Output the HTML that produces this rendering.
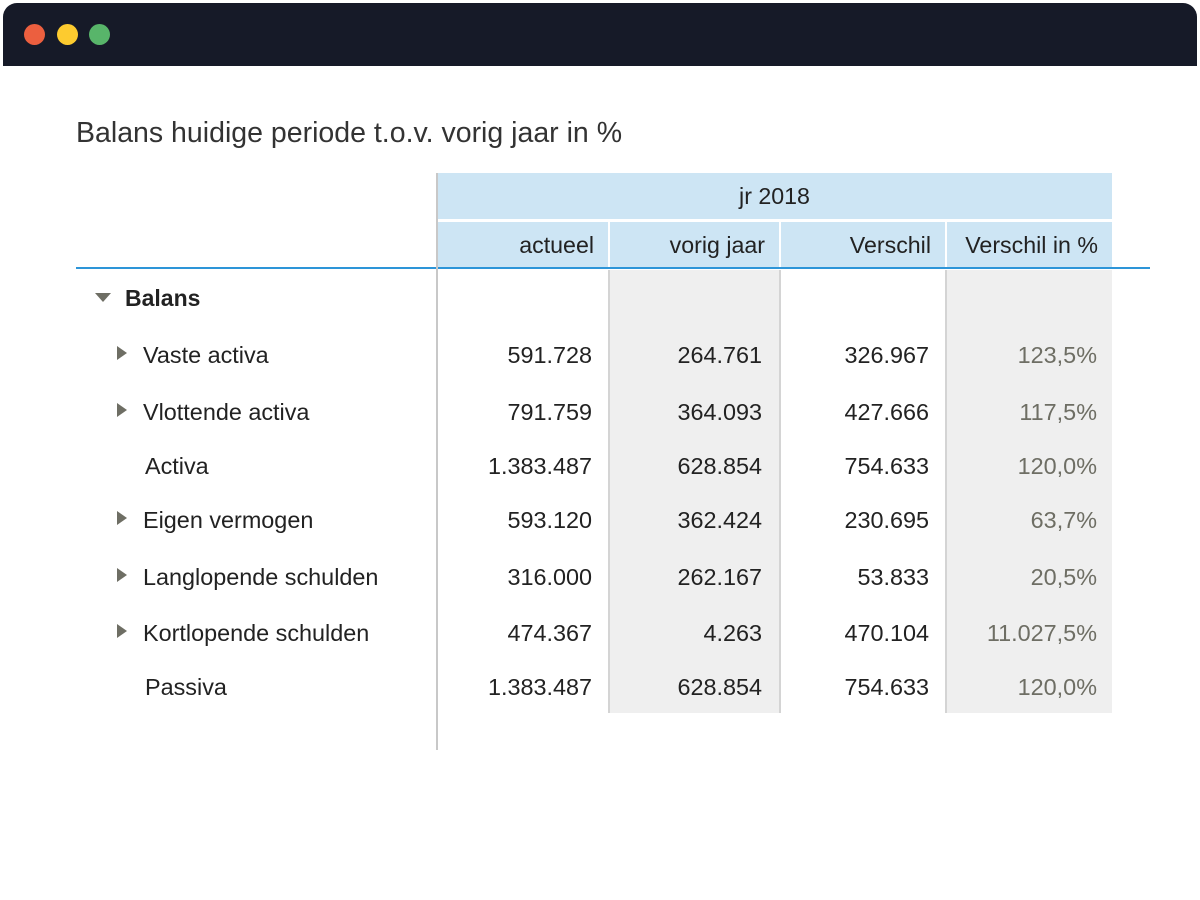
<!DOCTYPE html>
<html><head><meta charset="utf-8"><style>
body{margin:0;width:1200px;height:900px;background:#fff;position:relative;overflow:hidden;font-family:"Liberation Sans",sans-serif;color:#222}
div{position:absolute;box-sizing:border-box}
.t{white-space:nowrap;font-size:23.4px;line-height:26px}
.r{text-align:right}
.pct{color:#6e6e64}
.hdr{background:#cde5f4;font-size:23.2px;line-height:46px;text-align:right;padding-right:14px;white-space:nowrap}
.tri{width:0;height:0;border-top:7px solid transparent;border-bottom:7px solid transparent;border-left:10px solid #6e6e64}
</style></head><body>
<div style="left:3px;top:3px;width:1194px;height:63px;background:#161a28;border-radius:14px 14px 0 0"></div>
<div style="left:24px;top:24px;width:21px;height:21px;border-radius:50%;background:#ec5f3f"></div>
<div style="left:57px;top:24px;width:21px;height:21px;border-radius:50%;background:#fdcb2f"></div>
<div style="left:89px;top:24px;width:21px;height:21px;border-radius:50%;background:#58b56a"></div>
<div class="t" style="left:76px;top:117px;font-size:28.5px;line-height:32px;color:#333">Balans huidige periode t.o.v. vorig jaar in %</div>

<div style="left:610px;top:270px;width:169px;height:443px;background:#efefef"></div>
<div style="left:947px;top:270px;width:165px;height:443px;background:#efefef"></div>
<div class="hdr" style="left:437px;top:173px;width:675px;height:46px;text-align:center;padding:0">jr 2018</div>
<div class="hdr" style="left:437px;top:222px;width:171px;height:46px">actueel</div>
<div class="hdr" style="left:610px;top:222px;width:169px;height:46px">vorig jaar</div>
<div class="hdr" style="left:781px;top:222px;width:164px;height:46px">Verschil</div>
<div class="hdr" style="left:947px;top:222px;width:165px;height:46px">Verschil in %</div>
<div style="left:76px;top:267px;width:1074px;height:2px;background:#2d95d8"></div>
<div style="left:436px;top:173px;width:2px;height:577px;background:#c8c8c8"></div>
<div style="left:608px;top:270px;width:2px;height:443px;background:#d4d4d4"></div>
<div style="left:779px;top:270px;width:2px;height:443px;background:#d4d4d4"></div>
<div style="left:945px;top:270px;width:2px;height:443px;background:#d4d4d4"></div>

<div style="left:95px;top:293px;width:0;height:0;border-left:8px solid transparent;border-right:8px solid transparent;border-top:9px solid #6e6e64"></div>
<div class="t" style="left:125px;top:285px;font-weight:bold;font-size:23px">Balans</div>
<div id="rows"></div>
<script>
const labels=["Vaste activa","Vlottende activa","Activa","Eigen vermogen","Langlopende schulden","Kortlopende schulden","Passiva"];
const tops=[342,399,453,507,564,620,674];
const expandable=[true,true,false,true,true,true,false];
const actueel=["591.728","791.759","1.383.487","593.120","316.000","474.367","1.383.487"];
const vorig=["264.761","364.093","628.854","362.424","262.167","4.263","628.854"];
const verschil=["326.967","427.666","754.633","230.695","53.833","470.104","754.633"];
const pct=["123,5%","117,5%","120,0%","63,7%","20,5%","11.027,5%","120,0%"];
const rights=[592,762,929,1097];
function add(txt,left,top,cls,name,w){
  const d=document.createElement('div');
  d.className='t '+cls;
  d.textContent=txt;
  d.style.top=top+'px';
  if(w){d.style.left=(left-w)+'px';d.style.width=w+'px';}else d.style.left=left+'px';
  
  
  document.body.appendChild(d);
}
labels.forEach((l,i)=>{
  const y=tops[i];
  if(expandable[i]){
    const tr=document.createElement('div');
    tr.className='tri';tr.style.left='117px';tr.style.top=(y+4)+'px';
    
    
    document.body.appendChild(tr);
  }
  add(l,expandable[i]?143:145,y,'','row-label');
  add(actueel[i],rights[0],y,'r','cell-actueel',160);
  add(vorig[i],rights[1],y,'r','cell-vorig-jaar',160);
  add(verschil[i],rights[2],y,'r','cell-verschil',160);
  add(pct[i],rights[3],y,'r pct','cell-verschil-pct',160);
});
</script>
</body></html>
